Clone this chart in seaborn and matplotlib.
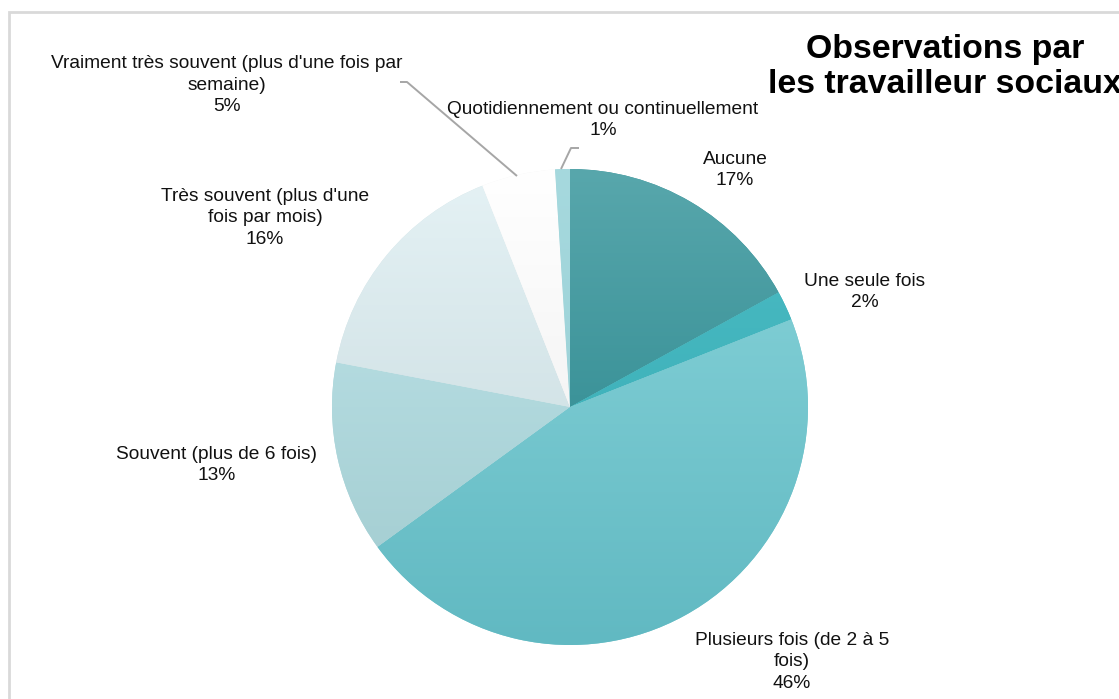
import numpy as np
import matplotlib
matplotlib.use("Agg")
import matplotlib.pyplot as plt
import seaborn as sns
from matplotlib.patches import Rectangle

# Survey answers, in clockwise order starting at 12 o'clock
categories = [
    "Aucune",
    "Une seule fois",
    "Plusieurs fois (de 2 à 5\nfois)",
    "Souvent (plus de 6 fois)",
    "Très souvent (plus d'une\nfois par mois)",
    "Vraiment très souvent (plus d'une fois par\nsemaine)",
    "Quotidiennement ou continuellement",
]
shares = [17, 2, 46, 13, 16, 5, 1]
title_lines = ["Observations par", "les travailleur sociaux"]

# Vertical gradient (top -> bottom of the pie) for each slice
top_colors = ["#58a7ac", "#4cbcc4", "#8ad5db", "#c0e6eb", "#e5f2f5", "#ffffff", "#a6d9de"]
bottom_colors = ["#1f7f86", "#34aab3", "#61b9c2", "#a0cace", "#c2d6da", "#ebebeb", "#94ccd2"]

sns.set_theme(style="white")
plt.rcParams["font.family"] = ["Liberation Sans", "DejaVu Sans"]

W, H = 1119, 699
fig = plt.figure(figsize=(W / 100, H / 100), dpi=100)
ax = fig.add_axes([0, 0, 1, 1])

cx, cy, r = 570, H - 407, 238
wedges, _ = ax.pie(shares, startangle=90, counterclock=False,
                   center=(cx, cy), radius=r,
                   wedgeprops=dict(linewidth=0))

grad = np.linspace(0, 1, 256)[:, None]
for w, c0, c1 in zip(wedges, top_colors, bottom_colors):
    cmap = sns.blend_palette([c0, c1], as_cmap=True)
    w.set_facecolor(sns.blend_palette([c0, c1], 3)[1])
    im = ax.imshow(grad, cmap=cmap, extent=(cx - r, cx + r, cy - r, cy + r),
                   origin="upper", aspect="auto", zorder=2, interpolation="bilinear")
    im.set_clip_path(w)

ax.set_xlim(0, W)
ax.set_ylim(0, H)
ax.set_aspect("equal")
ax.axis("off")

# Slice labels: name + rounded share
label_pos = [(735, 170), (865, 292), (792, 662), (217, 465),
             (265, 218), (227, 85), (603, 120)]
for name, val, (x, y) in zip(categories, shares, label_pos):
    ax.text(x, H - y, f"{name}\n{val}%", ha="center", va="center",
            fontsize=13.8, color="#111111", linespacing=1.38, zorder=5)

# Leader lines for the two thin slices near the top
line_kw = dict(color="#a6a6a6", lw=1.4, solid_capstyle="butt", zorder=4)
ax.plot([400, 407, 517], [H - 82, H - 82, H - 176], **line_kw)
ax.plot([579, 571, 561], [H - 148, H - 148, H - 169], **line_kw)

# Title, bold, running off the right edge
ax.text(945, H - 67, "\n".join(title_lines), ha="center", va="center",
        fontsize=24.4, fontweight="bold", color="black", linespacing=1.2,
        zorder=5, clip_on=False)

# Light chart-area border
ax.add_patch(Rectangle((9, -20), W + 40, H - 12 + 20, fill=False,
                       edgecolor="#d9d9d9", lw=2, clip_on=False, zorder=1))

fig.savefig("out.png", dpi=100)
